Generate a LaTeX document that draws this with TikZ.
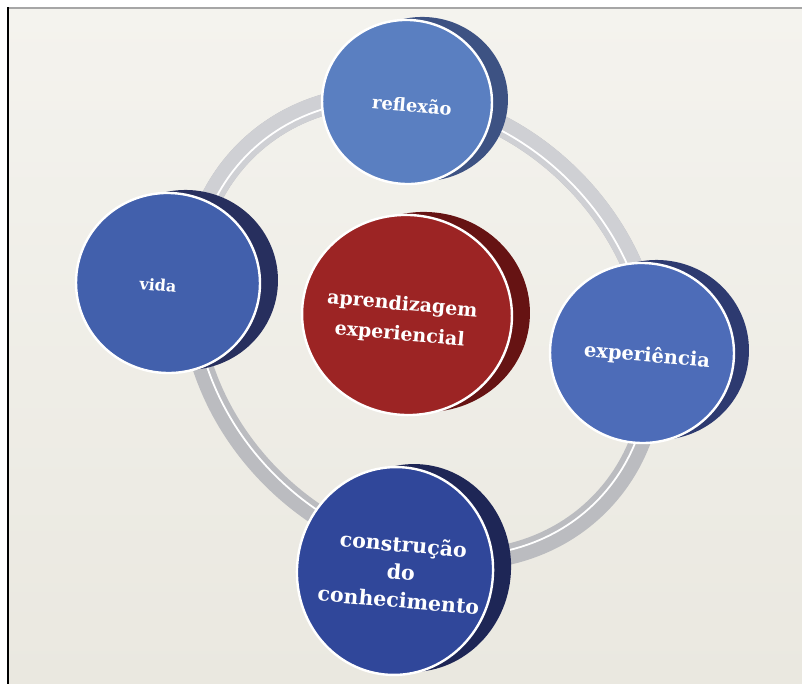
\documentclass[tikz,border=0pt]{standalone}
\usepackage{fontspec}
\setmainfont{DejaVu Serif}
\usetikzlibrary{shapes.geometric}
\definecolor{papertop}{HTML}{F4F3EE}
\definecolor{paperbot}{HTML}{EAE8E0}
\definecolor{ringgray}{HTML}{BBBCC0}
\definecolor{ringlight}{HTML}{CFD0D4}
\definecolor{bluelight}{HTML}{5A7FC1}
\definecolor{bluelightside}{HTML}{3D5283}
\definecolor{bluemid}{HTML}{4260AC}
\definecolor{bluemidside}{HTML}{272F5E}
\definecolor{blueexp}{HTML}{4D6CB8}
\definecolor{blueexpside}{HTML}{2D3A70}
\definecolor{bluedark}{HTML}{30479A}
\definecolor{bluedarkside}{HTML}{1E2656}
\definecolor{redface}{HTML}{9C2424}
\definecolor{redside}{HTML}{661313}
\tikzset{
  face/.style={ellipse, draw=white, line width=2.4pt, inner sep=0pt},
  side/.style={ellipse, inner sep=0pt},
  label/.style={text=white, align=center, inner sep=0pt, rotate=-5},
  band/.style={draw=ringgray, line width=21pt},
  bandline/.style={draw=white, line width=1.8pt},
}
\begin{document}
\begin{tikzpicture}[x=1pt,y=1pt]
\useasboundingbox (0,0) rectangle (802,684);
\fill[white] (0,0) rectangle (802,684);
\shade[top color=papertop, bottom color=paperbot] (8,0) rectangle (802,676);
\draw[gray!70, line width=1.2pt] (8,676) -- (802,676);
\draw[black, line width=1.8pt] (8,0) -- (8,676.6);
% ring
\coordinate (ringc) at (422,356);
\draw[band, rotate around={-45:(ringc)}] (ringc) ellipse [x radius=250pt, y radius=212pt];
\begin{scope}
\clip (8,356) rectangle (802,676);
\draw[band, draw=ringlight, rotate around={-45:(ringc)}] (ringc) ellipse [x radius=250pt, y radius=212pt];
\end{scope}
\draw[bandline, rotate around={-45:(ringc)}] (ringc) ellipse [x radius=246pt, y radius=208pt];
% reflexao
\node[side, fill=bluelightside, minimum width=170pt, minimum height=164pt, rotate=-6] (reflS) at (423,585) {};
\node[face, fill=bluelight, minimum width=170pt, minimum height=164pt, rotate=-6] (refl) at (407,582) {};
\node[label, font=\bfseries\fontsize{18}{21}\selectfont] (reflT) at (412,579) {reflexão};
% vida
\node[side, fill=bluemidside, minimum width=184pt, minimum height=180pt, rotate=-6] (vidaS) at (186,404) {};
\node[face, fill=bluemid, minimum width=184pt, minimum height=180pt, rotate=-6] (vida) at (168,401) {};
\node[label, font=\bfseries\fontsize{16}{19}\selectfont] (vidaT) at (158,399) {vida};
% experiencia
\node[side, fill=blueexpside, minimum width=184pt, minimum height=180pt, rotate=-6] (expS) at (657,334) {};
\node[face, fill=blueexp, minimum width=184pt, minimum height=180pt, rotate=-6] (exp) at (642,331) {};
\node[label, font=\bfseries\fontsize{19.5}{22}\selectfont] (expT) at (647,328) {experiência};
% construcao
\node[side, fill=bluedarkside, minimum width=196pt, minimum height=208pt, rotate=-6] (consS) at (413,116) {};
\node[face, fill=bluedark, minimum width=196pt, minimum height=208pt, rotate=-6] (cons) at (395,113) {};
\node[label, font=\bfseries\fontsize{20.5}{28}\selectfont] (consT) at (401,112) {construção\\do\\conhecimento};
% centro
\node[side, fill=redside, minimum width=210pt, minimum height=200pt, rotate=-6] (centS) at (425,372) {};
\node[face, fill=redface, minimum width=210pt, minimum height=200pt, rotate=-6] (cent) at (407,369) {};
\node[label, font=\bfseries\fontsize{19}{30}\selectfont] (centT) at (401,364) {aprendizagem\\experiencial};
\end{tikzpicture}
\end{document}
